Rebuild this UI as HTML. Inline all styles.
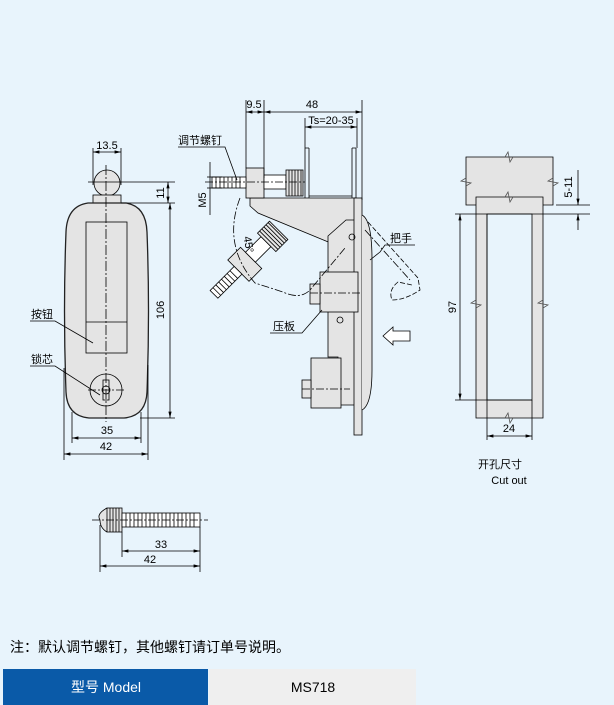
<!DOCTYPE html>
<html><head><meta charset="utf-8"><style>
body{margin:0;background:#e8f4fc;width:614px;height:705px;overflow:hidden;font-family:"Liberation Sans","Noto Sans CJK SC",sans-serif}
svg{position:absolute;left:0;top:0}
</style></head><body>
<svg width="614" height="705" viewBox="0 0 614 705" font-family="Liberation Sans, Noto Sans CJK SC, sans-serif" font-size="11" fill="#000">
<defs><marker id="a" markerWidth="8" markerHeight="6" refX="8" refY="3" orient="auto-start-reverse"><path d="M0,1 L8,3 L0,5Z" fill="#000"/></marker></defs>
<g stroke="#000" stroke-width="0.8" fill="none">
<!-- front view -->
<circle cx="107" cy="183" r="13" fill="#e4e4e4"/>
<rect x="93" y="195" width="28" height="8" fill="#e4e4e4"/>
<path d="M88,203 H126 Q146,206 147,232 Q150,310 147,392 Q146,416 124,418 H89 Q67,416 66,392 Q63,310 66,232 Q67,206 88,203Z" fill="#e4e4e4" stroke="#222" stroke-width="1.3"/>
<rect x="86" y="222" width="41" height="131"/>
<line x1="86" y1="322" x2="127" y2="322"/>
<circle cx="106" cy="390" r="16"/>
<rect x="103" y="380" width="6" height="20"/>
<circle cx="106" cy="390" r="4"/>
<line x1="106" y1="165" x2="106" y2="422" stroke-dasharray="10,2,2,2"/>
<line x1="88" y1="390" x2="125" y2="390" stroke-dasharray="8,2,2,2"/>
<line x1="93" y1="148" x2="93" y2="185"/><line x1="121" y1="148" x2="121" y2="185"/>
<line x1="93" y1="152" x2="121" y2="152" marker-start="url(#a)" marker-end="url(#a)"/>
<line x1="88" y1="182" x2="175" y2="182"/><line x1="121" y1="203" x2="175" y2="203"/>
<line x1="140" y1="418" x2="175" y2="418"/>
<line x1="168" y1="182" x2="168" y2="203" marker-start="url(#a)" marker-end="url(#a)"/>
<line x1="170" y1="203" x2="170" y2="418" marker-start="url(#a)" marker-end="url(#a)"/>
<line x1="64" y1="368" x2="64" y2="460"/><line x1="148" y1="365" x2="148" y2="460"/>
<line x1="72" y1="412" x2="72" y2="443"/><line x1="141" y1="412" x2="141" y2="443"/>
<line x1="72" y1="438" x2="141" y2="438" marker-start="url(#a)" marker-end="url(#a)"/>
<line x1="64" y1="454" x2="148" y2="454" marker-start="url(#a)" marker-end="url(#a)"/>
<polyline points="30,321 55,321 93,343"/>
<polyline points="30,366 55,366 100,395"/>
<!-- side view -->
<path d="M305,200 V148 M309,200 V148 M305,148 h4 M352,200 V148 M356,200 V148 M352,148 h4 M305,200 H356 M309,196 H352" fill="#e4e4e4"/>
<path d="M250,198 H356 V225 L346,248 L338,246 L258,213 L250,206Z" fill="#e4e4e4"/>
<path d="M328,236 L346,220 H356 V405 H338 V357 H328Z" fill="#e4e4e4"/>
<rect x="354" y="198" width="8" height="237" fill="#e4e4e4"/>
<path d="M362,215 Q372,220 372,260 V370 Q372,405 362,410" fill="#e4e4e4"/>
<rect x="320" y="272" width="38" height="40" fill="#e4e4e4"/>
<rect x="310" y="284" width="10" height="20" fill="#e4e4e4"/>
<rect x="311" y="358" width="30" height="50" fill="#e4e4e4"/>
<rect x="302" y="380" width="9" height="18" fill="#e4e4e4"/>
<rect x="246" y="168" width="18" height="30" fill="#e4e4e4"/>
<rect x="264" y="175" width="22" height="14" fill="#fff"/>
<rect x="286" y="170" width="17" height="26" fill="#e4e4e4"/>
<path d="M289,170 v26 M292,170 v26 M295,170 v26 M298,170 v26 M301,170 v26"/>
<rect x="212" y="177" width="34" height="11" fill="#fff"/>
<path d="M216,177 v11 M220,177 v11 M224,177 v11 M228,177 v11 M232,177 v11 M236,177 v11 M240,177 v11"/>
<line x1="205" y1="182" x2="305" y2="182" stroke-dasharray="8,2,2,2"/>
<line x1="310" y1="293" x2="362" y2="293" stroke-dasharray="8,2,2,2"/>
<line x1="302" y1="389" x2="350" y2="389" stroke-dasharray="8,2,2,2"/>
<circle cx="352" cy="237" r="3"/><circle cx="340" cy="320" r="3"/>
<g transform="rotate(-45 348 236)">
<rect x="246" y="168" width="18" height="30" fill="#e4e4e4"/>
<rect x="264" y="175" width="22" height="14" fill="#fff"/>
<rect x="286" y="170" width="17" height="26" fill="#e4e4e4"/>
<path d="M289,170 v26 M292,170 v26 M295,170 v26 M298,170 v26 M301,170 v26"/>
<rect x="212" y="177" width="34" height="11" fill="#fff"/>
<path d="M216,177 v11 M220,177 v11 M224,177 v11 M228,177 v11 M232,177 v11 M236,177 v11 M240,177 v11"/>
</g>
<path d="M240,198 Q222,245 255,283 L283,292 Q300,300 310,290 L345,248" stroke-dasharray="8,2,2,2"/>
<path d="M368,222 L418,278 L420,290 Q405,300 392,300 Q388,290 398,282 L412,285" stroke-dasharray="5,2"/>
<path d="M365,230 L410,280" stroke-dasharray="8,2,2,2"/>
<line x1="246" y1="100" x2="246" y2="168"/><line x1="264" y1="100" x2="264" y2="178"/>
<line x1="362" y1="100" x2="362" y2="200"/><line x1="305" y1="118" x2="305" y2="148"/><line x1="357" y1="118" x2="357" y2="148"/>
<line x1="246" y1="112" x2="264" y2="112" marker-start="url(#a)" marker-end="url(#a)"/>
<line x1="264" y1="112" x2="362" y2="112" marker-start="url(#a)" marker-end="url(#a)"/>
<line x1="305" y1="127" x2="357" y2="127" marker-start="url(#a)" marker-end="url(#a)"/>
<line x1="207" y1="177" x2="222" y2="177"/><line x1="207" y1="188" x2="222" y2="188"/>
<line x1="210" y1="162" x2="210" y2="215"/>
<polyline points="178,147 225,147 237,180"/>
<polyline points="415,245 385,245 380,252 370,260"/>
<polyline points="270,333 302,333 322,310"/>
<path d="M410,331 H393 V327 L383,336 L393,345 V341 H410Z" fill="#fff"/>
<!-- cutout -->
<path d="M466,157 H553 V205 H466Z" fill="#e4e4e4"/>
<path d="M476,197 H543 V418 H476Z M487,214 V400 H532 V214Z" fill="#e4e4e4" fill-rule="evenodd"/>
<line x1="455" y1="214" x2="540" y2="214"/><line x1="455" y1="400" x2="532" y2="400"/>
<line x1="487" y1="214" x2="487" y2="440"/><line x1="532" y1="400" x2="532" y2="440"/>
<line x1="460" y1="214" x2="460" y2="400" marker-start="url(#a)" marker-end="url(#a)"/>
<line x1="487" y1="436" x2="532" y2="436" marker-start="url(#a)" marker-end="url(#a)"/>
<line x1="556" y1="205" x2="590" y2="205"/><line x1="540" y1="214" x2="590" y2="214"/>
<line x1="578" y1="170" x2="578" y2="205" marker-end="url(#a)"/>
<line x1="578" y1="230" x2="578" y2="214" marker-end="url(#a)"/>
<!-- bottom screw -->
<path d="M107,508 Q96,514 100,520 Q100,528 107,532" fill="#e4e4e4"/>
<rect x="107" y="508" width="15" height="24" fill="#e4e4e4"/>
<path d="M110,508v24M113,508v24M116,508v24M119,508v24"/>
<rect x="122" y="513" width="78" height="14" fill="#fff"/>
<path d="M126,513v14M130,513v14M134,513v14M138,513v14M142,513v14M146,513v14M150,513v14M154,513v14M158,513v14M162,513v14M166,513v14M170,513v14M174,513v14M178,513v14M182,513v14M186,513v14M190,513v14M194,513v14"/>
<line x1="92" y1="520" x2="208" y2="520" stroke-dasharray="8,2,2,2"/>
<line x1="100" y1="525" x2="100" y2="572"/><line x1="122" y1="532" x2="122" y2="557"/><line x1="200" y1="527" x2="200" y2="572"/>
<line x1="122" y1="551" x2="200" y2="551" marker-start="url(#a)" marker-end="url(#a)"/>
<line x1="100" y1="566" x2="200" y2="566" marker-start="url(#a)" marker-end="url(#a)"/>
</g>
<g fill="#e4e4e4" stroke="#555" stroke-width="0.8">
<path d="M505,157 l3,-5 l2,10 l3,-5" fill="none"/><path d="M466,178 l-5,3 l10,2 l-5,3" fill="none"/>
<path d="M553,178 l-5,3 l10,2 l-5,3" fill="none"/><path d="M505,197 l3,-5 l2,10 l3,-5" fill="none"/>
<path d="M476,300 l-5,3 l10,2 l-5,3" fill="none"/><path d="M543,300 l-5,3 l10,2 l-5,3" fill="none"/>
<path d="M505,418 l3,-5 l2,10 l3,-5" fill="none"/>
</g>
<g text-anchor="middle">
<text x="107" y="149">13.5</text>
<text x="107" y="434">35</text><text x="106" y="450">42</text>
<text transform="translate(164,193) rotate(-90)">11</text>
<text transform="translate(164,310) rotate(-90)">106</text>
<text x="254" y="108">9.5</text><text x="312" y="108">48</text><text x="331" y="124">Ts=20-35</text>
<text transform="translate(206,200) rotate(-90)">M5</text>
<text transform="translate(245,245) rotate(80)">45°</text>
<text transform="translate(456,307) rotate(-90)">97</text>
<text x="509" y="432">24</text>
<text transform="translate(572,187) rotate(-90)">5-11</text>
<text x="500" y="468">开孔尺寸</text><text x="509" y="484">Cut  out</text>
<text x="161" y="548">33</text><text x="150" y="563">42</text>
</g>
<text x="31" y="318">按钮</text><text x="31" y="363">锁芯</text>
<text x="178" y="144">调节螺钉</text><text x="390" y="242">把手</text><text x="273" y="330">压板</text>
<text x="10" y="652" font-size="14">注：默认调节螺钉，其他螺钉请订单号说明。</text>
<rect x="3" y="669" width="205" height="36" fill="#0a5aa8"/>
<rect x="209" y="669" width="207" height="36" fill="#efefef"/>
<text x="106" y="692" font-size="14" fill="#fff" text-anchor="middle">型号 Model</text>
<text x="313" y="692" font-size="14" text-anchor="middle">MS718</text>
</svg>
</body></html>
